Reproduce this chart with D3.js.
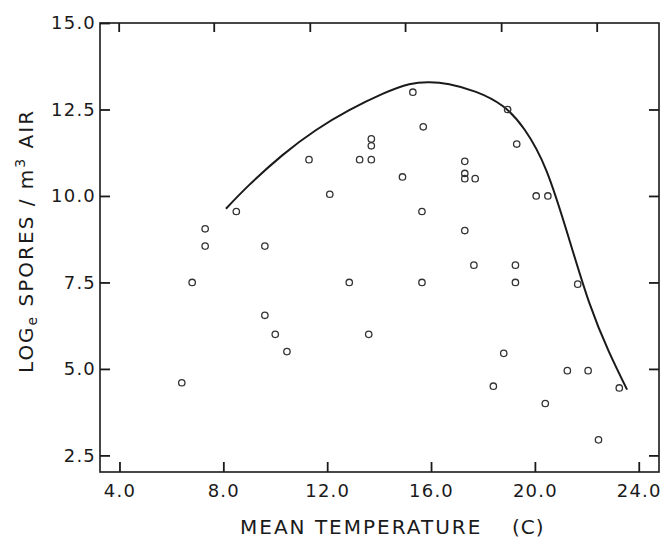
<!DOCTYPE html>
<html>
<head>
<meta charset="utf-8">
<script src="https://d3js.org/d3.v7.min.js"></script>
<style>
    body { margin: 0; background: #fff; }
    text { font-family: "DejaVu Sans", sans-serif; fill: #1a1a1a; }
</style>
</head>
<body>
<script>
//scatter of spore counts against mean temperature, with fitted envelope curve

//temperature (C) of each observation
var temps = [6.4, 6.8, 7.3, 7.3, 8.5, 9.6, 9.6, 10.0, 10.45, 11.3, 12.1, 12.85, 13.25, 13.6, 13.7, 13.7, 13.7,
    14.9, 15.3, 15.7, 15.65, 15.65, 17.3, 17.3, 17.3, 17.7, 17.3, 17.65, 18.95, 19.3, 20.05, 20.5,
    19.25, 19.25, 21.65, 18.8, 18.4, 21.25, 22.05, 23.25, 20.4, 22.45];
//loge spores / m3 air for each observation
var spores = [4.6, 7.5, 9.05, 8.55, 9.55, 8.55, 6.55, 6.0, 5.5, 11.05, 10.05, 7.5, 11.05, 6.0, 11.05, 11.65, 11.45,
    10.55, 13.0, 12.0, 9.55, 7.5, 11.0, 10.65, 10.5, 10.5, 9.0, 8.0, 12.5, 11.5, 10.0, 10.0,
    8.0, 7.5, 7.45, 5.45, 4.5, 4.95, 4.95, 4.45, 4.0, 2.95];

//fitted curve
var curveTemps = [8.1, 9.0, 10.28, 11.56, 12.85, 14.13, 15.16, 15.93, 16.7, 17.73, 18.76, 19.6, 20.45, 21.3, 22.1, 22.85, 23.55];
var curveSpores = [9.63, 10.32, 11.18, 11.9, 12.48, 12.95, 13.23, 13.29, 13.23, 13.01, 12.6, 11.92, 10.72, 8.8, 6.9, 5.5, 4.4];

//tick values
var xTicks = [4, 8, 12, 16, 20, 24];
var xTopTicks = [3.97, 7.63, 11.33, 15.0, 18.7, 22.38];
var yTicks = [2.5, 5, 7.5, 10, 12.5, 15];
var yRightTicks = [2.5, 5, 7.5, 10, 12.5];

window.onload = drawChart();

function drawChart(){
    var width = 664,
        height = 541;

    //plot frame
    var left = 100, right = 659, top = 23, bottom = 472;

    var svg = d3.select("body")
        .append("svg")
        .attr("width", width)
        .attr("height", height);

    var x = d3.scaleLinear()
        .domain([3.25, 24.78])
        .range([left, right]);

    var y = d3.scaleLinear()
        .domain([2.02, 15.0])
        .range([bottom, top]);

    //frame box
    svg.append("rect")
        .attr("x", left)
        .attr("y", top)
        .attr("width", right - left)
        .attr("height", bottom - top)
        .attr("fill", "none")
        .attr("stroke", "#1a1a1a")
        .attr("stroke-width", 1.6);

    //axes, ticks pointing inward
    var xAxis = svg.append("g")
        .attr("class", "axis")
        .attr("transform", "translate(0," + bottom + ")")
        .call(d3.axisBottom(x).tickValues(xTicks).tickSize(-10).tickPadding(12).tickFormat(d3.format(".1f")));

    var xTop = svg.append("g")
        .attr("class", "axis")
        .attr("transform", "translate(0," + top + ")")
        .call(d3.axisTop(x).tickValues(xTopTicks).tickSize(-9).tickFormat(""));

    var yAxis = svg.append("g")
        .attr("class", "axis")
        .attr("transform", "translate(" + left + ",0)")
        .call(d3.axisLeft(y).tickValues(yTicks).tickSize(-10).tickPadding(4).tickFormat(d3.format(".1f")));

    var yRight = svg.append("g")
        .attr("class", "axis")
        .attr("transform", "translate(" + right + ",0)")
        .call(d3.axisRight(y).tickValues(yRightTicks).tickSize(-10).tickFormat(""));

    svg.selectAll(".axis .domain").remove();
    svg.selectAll(".axis line")
        .attr("stroke", "#1a1a1a")
        .attr("stroke-width", 1.8);
    svg.selectAll(".axis text")
        .attr("font-family", "DejaVu Sans, sans-serif")
        .attr("font-size", 18)
        .attr("letter-spacing", 1.2)
        .attr("fill", "#1a1a1a");

    //fitted curve
    var pts = curveTemps.map(function(t, i){ return [t, curveSpores[i]]; });
    var line = d3.line()
        .x(function(d){ return x(d[0]); })
        .y(function(d){ return y(d[1]); })
        .curve(d3.curveNatural);

    svg.append("path")
        .datum(pts)
        .attr("d", line)
        .attr("fill", "none")
        .attr("stroke", "#1a1a1a")
        .attr("stroke-width", 2);

    //observations as open circles
    svg.selectAll(".obs")
        .data(temps)
        .enter()
        .append("circle")
        .attr("class", "obs")
        .attr("cx", function(d){ return x(d); })
        .attr("cy", function(d, i){ return y(spores[i]); })
        .attr("r", 3.2)
        .attr("fill", "none")
        .attr("stroke", "#333")
        .attr("stroke-width", 1.3);

    //x axis title
    var xt = svg.append("text")
        .attr("x", 240)
        .attr("y", 534)
        .attr("font-size", 20)
        .attr("letter-spacing", 2);
    xt.append("tspan").text("MEAN TEMPERATURE");
    xt.append("tspan").attr("x", 512).attr("letter-spacing", 1).text("(C)");

    //y axis title, rotated
    var yt = svg.append("text")
        .attr("transform", "translate(33," + 241 + ") rotate(-90)")
        .attr("text-anchor", "middle")
        .attr("font-size", 20)
        .attr("letter-spacing", 2);
    yt.append("tspan").text("LOG");
    yt.append("tspan").attr("font-size", 14).attr("dy", 4).text("e");
    yt.append("tspan").attr("dy", -4).text(" SPORES / m");
    yt.append("tspan").attr("font-size", 14).attr("dy", -8).text("3");
    yt.append("tspan").attr("dy", 8).text(" AIR");
}
</script>
</body>
</html>
